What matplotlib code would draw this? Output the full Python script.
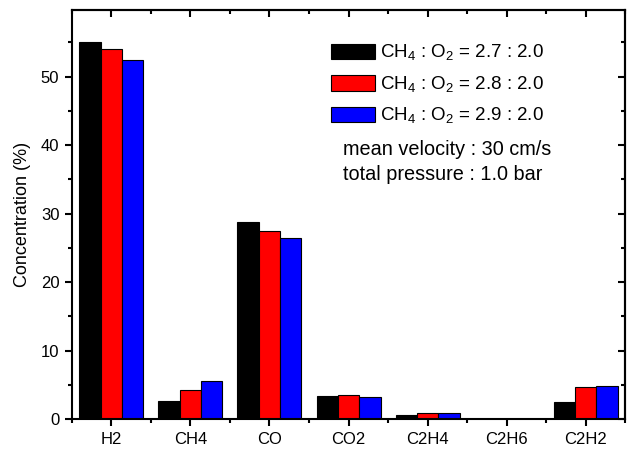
import numpy as np
import matplotlib.pyplot as plt

plt.rcParams['font.family'] = ['Liberation Sans', 'DejaVu Sans']
plt.rcParams['mathtext.fontset'] = 'custom'
plt.rcParams['mathtext.rm'] = 'Liberation Sans'

gases = ['H2', 'CH4', 'CO', 'CO2', 'C2H4', 'C2H6', 'C2H2']
r27 = [55.1, 2.6, 28.8, 3.4, 0.58, 0.0, 2.5]
r28 = [54.0, 4.2, 27.5, 3.5, 0.88, 0.0, 4.7]
r29 = [52.4, 5.5, 26.4, 3.2, 0.88, 0.0, 4.9]
labels = [r'CH$_4$ : O$_2$ = 2.7 : 2.0',
          r'CH$_4$ : O$_2$ = 2.8 : 2.0',
          r'CH$_4$ : O$_2$ = 2.9 : 2.0']
colors = ['black', 'red', 'blue']

fig = plt.figure(figsize=(6.36, 4.58), dpi=100)
ax = fig.add_axes([0.113, 0.085, 0.87, 0.893])

x = np.arange(len(gases))
w = 0.27
for i, vals in enumerate([r27, r28, r29]):
    ax.bar(x + (i - 1) * w, vals, w, color=colors[i], edgecolor='black', linewidth=0.8, label=labels[i])

ax.set_xlim(-0.5, 6.5)
ax.set_ylim(0, 59.7)
ax.set_xticks(x)
ax.set_xticklabels(gases, fontsize=12)
ax.set_xticks(np.arange(-0.5, 7, 1), minor=True)
ax.set_yticks([0, 10, 20, 30, 40, 50])
ax.set_yticks(np.arange(5, 60, 10), minor=True)
ax.tick_params(axis='y', labelsize=12)
ax.tick_params(which='major', direction='out', length=5, width=1.5, pad=4)
ax.tick_params(which='minor', direction='out', length=3, width=1.5)
ax.set_ylabel('Concentration (%)', fontsize=13, labelpad=7)
for s in ax.spines.values():
    s.set_linewidth(1.5)

# mirrored ticks pointing inward on top and right
top = ax.secondary_xaxis('top')
top.set_xticks(x)
top.set_xticks(np.arange(-0.5, 7, 1), minor=True)
top.tick_params(which='major', direction='in', length=5, width=1.5, labeltop=False)
top.tick_params(which='minor', direction='in', length=3, width=1.5)
top.spines['top'].set_linewidth(1.5)
right = ax.secondary_yaxis('right')
right.set_yticks([0, 10, 20, 30, 40, 50])
right.set_yticks(np.arange(5, 60, 10), minor=True)
right.tick_params(which='major', direction='in', length=5, width=1.5, labelright=False)
right.tick_params(which='minor', direction='in', length=3, width=1.5)
right.spines['right'].set_linewidth(1.5)

ax.legend(loc='upper left', bbox_to_anchor=(0.468, 0.92), frameon=False, fontsize=13.5,
          handlelength=2.35, handleheight=0.9, handletextpad=0.27, labelspacing=0.6,
          borderaxespad=0, borderpad=0)

ax.text(0.49, 0.658, 'mean velocity : 30 cm/s', transform=ax.transAxes, fontsize=14.3, va='center')
ax.text(0.49, 0.599, 'total pressure : 1.0 bar', transform=ax.transAxes, fontsize=14.3, va='center')

fig.savefig('out.png', dpi=100)
